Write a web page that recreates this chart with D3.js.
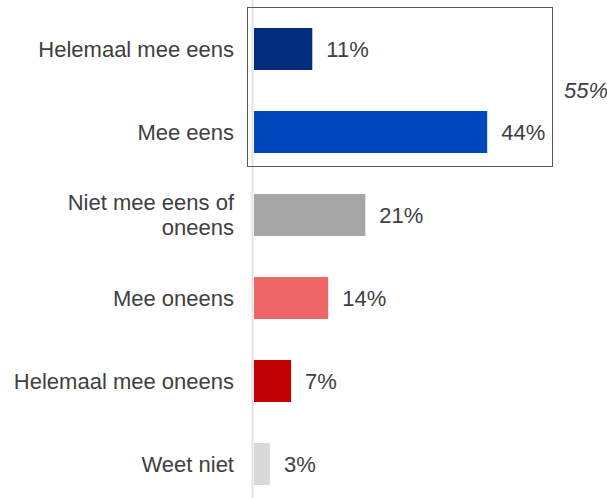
<!DOCTYPE html>
<html><head><meta charset="utf-8">
<script src="https://cdn.jsdelivr.net/npm/d3@7"></script>
<style>body{margin:0;background:#fff;}svg{display:block;font-family:"Liberation Sans",Arial,sans-serif;}</style>
</head><body><div id="chart"></div>
<script>
const categories = ["Helemaal mee eens","Mee eens","Niet mee eens of oneens","Mee oneens","Helemaal mee oneens","Weet niet"];
const labelLines = [["Helemaal mee eens"],["Mee eens"],["Niet mee eens of","oneens"],["Mee oneens"],["Helemaal mee oneens"],["Weet niet"]];
const values = [11,44,21,14,7,3];
const colors = ["#002E7C","#0047BB","#A6A6A6","#EE6767","#C00000","#D9D9D9"];
const groupTotal = "55%";

(function(){
const W=607,H=498,FS=22;
const svg=d3.select("#chart").append("svg").attr("width",W).attr("height",H);
const x0=254;
const x=d3.scaleLinear().domain([0,100]).range([x0,x0+530]);
// step 83, bar 42
const yb=d3.scaleBand().domain(categories).range([7.5,7.5+83*6]).paddingInner(41/83).paddingOuter(20.5/83);

// axis line
svg.append("line").attr("x1",x0-1.5).attr("x2",x0-1.5).attr("y1",0).attr("y2",H).attr("stroke","#E3E3E3").attr("stroke-width",2);

svg.selectAll("rect.bar").data(values).join("rect").attr("class","bar")
 .attr("x",x(0)).attr("y",(d,i)=>yb(categories[i])).attr("height",yb.bandwidth())
 .attr("width",d=>x(d)-x(0)).attr("fill",(d,i)=>colors[i]);

svg.selectAll("text.val").data(values).join("text").attr("class","val")
 .attr("x",d=>x(d)+14).attr("y",(d,i)=>yb(categories[i])+yb.bandwidth()/2)
 .attr("dy","0.36em").attr("font-size",FS).attr("fill","#404040").text(d=>d+"%");

const lab=svg.selectAll("text.cat").data(labelLines).join("text").attr("class","cat")
 .attr("text-anchor","end").attr("font-size",FS).attr("fill","#404040")
 .attr("y",(d,i)=>yb(categories[i])+yb.bandwidth()/2);
lab.each(function(lines){
  const t=d3.select(this);
  const n=lines.length;
  lines.forEach((l,j)=>t.append("tspan").attr("x",234).attr("dy",j===0?(0.36-(n-1)*0.57)+"em":"1.14em").text(l));
});

// group box
const bx0=247,bx1=552;
const boxTop=yb(categories[0])-21, boxBot=yb(categories[1])+yb.bandwidth()+13;
svg.append("rect").attr("x",bx0+0.5).attr("y",boxTop+0.5).attr("width",bx1-bx0)
 .attr("height",boxBot-boxTop).attr("fill","none").attr("stroke","#595959").attr("stroke-width",1);
svg.append("text").attr("x",564).attr("y",(yb(categories[0])+yb(categories[1])+yb.bandwidth())/2)
 .attr("dy","0.36em").attr("font-size",FS).attr("font-style","italic").attr("fill","#404040").text(groupTotal);
})();
</script></body></html>
